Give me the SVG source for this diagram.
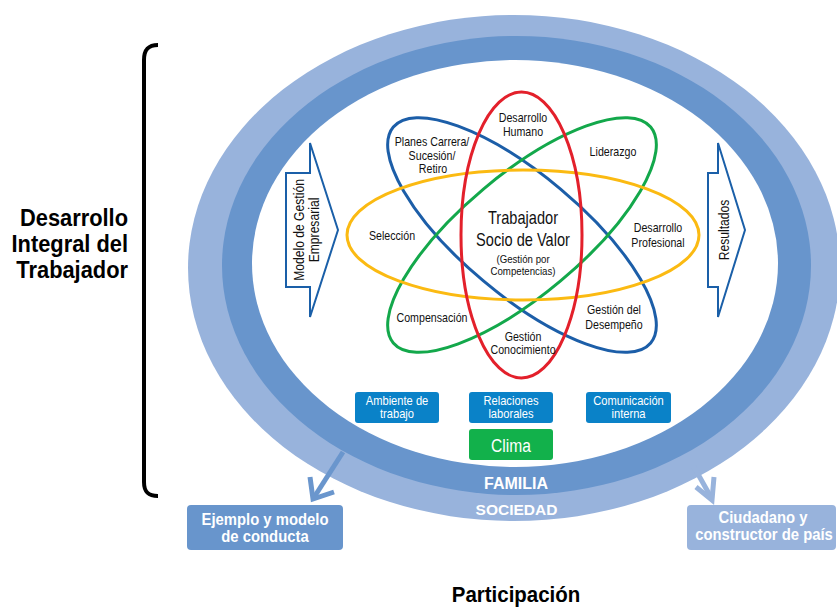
<svg xmlns="http://www.w3.org/2000/svg" width="837" height="608" viewBox="0 0 837 608">
<style>
.lbl{font-family:"Liberation Sans",Arial,sans-serif;font-size:13px;fill:#111;text-anchor:middle}
.ctr{font-family:"Liberation Sans",Arial,sans-serif;fill:#111;text-anchor:middle}
.box{font-family:"Liberation Sans",Arial,sans-serif;font-size:13.6px;fill:#fff;text-anchor:middle}
.bold{font-family:"Liberation Sans",Arial,sans-serif;font-weight:bold;text-anchor:middle}
.orb{fill:none;stroke-width:3}
.barrow{fill:#fff;stroke:#1a5fa8;stroke-width:2}
</style>
<defs/>
<g id="rings">
<ellipse cx="514" cy="268" rx="326" ry="253" fill="#98b3dc"/>
<ellipse cx="516.5" cy="265.5" rx="294.5" ry="229.5" fill="#6895cc"/>
<ellipse cx="515" cy="263.5" rx="263" ry="203.5" fill="#fff"/>
<text class="bold" x="516" y="489" font-size="16" fill="#fff">FAMILIA</text>
<text class="bold" x="516.5" y="515" font-size="15.5" fill="#fff">SOCIEDAD</text>
</g>
<g id="brace">
<path d="M158,45 C148,45 144,50 144,60 L144,482 C144,492 148,496 158,496" fill="none" stroke="#000" stroke-width="4"/>
<text class="bold" font-size="24" style="text-anchor:end" transform="translate(128 226) scale(.91 1)">Desarrollo</text>
<text class="bold" font-size="24" style="text-anchor:end" transform="translate(128 252) scale(.91 1)">Integral del</text>
<text class="bold" font-size="24" style="text-anchor:end" transform="translate(128 278) scale(.91 1)">Trabajador</text>
</g>
<g id="orbits">
<ellipse class="orb" cx="522" cy="235" rx="168" ry="60" transform="rotate(40 522 235)" stroke="#1c5ea8"/>
<ellipse class="orb" cx="522" cy="235" rx="168" ry="60" transform="rotate(-40 522 235)" stroke="#13a84b"/>
<ellipse class="orb" cx="523" cy="235" rx="176" ry="65" stroke="#fbba12"/>
<ellipse class="orb" cx="521.5" cy="235" rx="60.5" ry="143" stroke="#e3202b"/>
</g>
<g id="center">
<text class="ctr" font-size="17.8" transform="translate(523 224) scale(.82 1)">Trabajador</text>
<text class="ctr" font-size="17.8" transform="translate(523 245.7) scale(.82 1)">Socio de Valor</text>
<text class="ctr" font-size="11.8" transform="translate(523 262.7) scale(.82 1)">(Gestión por</text>
<text class="ctr" font-size="11.8" transform="translate(523 275) scale(.82 1)">Competencias)</text>
</g>
<g id="desarrollo-humano"><text class="lbl" transform="translate(523 121.7) scale(.82 1)">Desarrollo</text><text class="lbl" transform="translate(523 136) scale(.82 1)">Humano</text></g>
<g id="planes"><text class="lbl" transform="translate(432 146) scale(.82 1)">Planes Carrera/</text><text class="lbl" transform="translate(432 160) scale(.82 1)">Sucesión/</text><text class="lbl" transform="translate(433 173) scale(.82 1)">Retiro</text></g>
<g id="liderazgo"><text class="lbl" transform="translate(613 156) scale(.82 1)">Liderazgo</text></g>
<g id="seleccion"><text class="lbl" transform="translate(392 240) scale(.82 1)">Selección</text></g>
<g id="desarrollo-profesional"><text class="lbl" transform="translate(658 231.7) scale(.82 1)">Desarrollo</text><text class="lbl" transform="translate(658 246.7) scale(.82 1)">Profesional</text></g>
<g id="compensacion"><text class="lbl" transform="translate(432 321.7) scale(.82 1)">Compensación</text></g>
<g id="gestion-conocimiento"><text class="lbl" transform="translate(523 341) scale(.82 1)">Gestión</text><text class="lbl" transform="translate(523 354) scale(.82 1)">Conocimiento</text></g>
<g id="gestion-desempeno"><text class="lbl" transform="translate(614 314) scale(.82 1)">Gestión del</text><text class="lbl" transform="translate(614 329) scale(.82 1)">Desempeño</text></g>
<g id="modelo">
<path class="barrow" d="M286,173 L310,173 L310,143 L338,230 L310,317 L310,287 L286,287 Z"/>
<text class="ctr" font-size="14.8" transform="translate(304 230) rotate(-90) scale(.82 1)">Modelo de Gestión</text>
<text class="ctr" font-size="14.8" transform="translate(319 230) rotate(-90) scale(.82 1)">Empresarial</text>
</g>
<g id="resultados">
<path class="barrow" d="M708,173 L718,173 L718,143 L745,230 L718,317 L718,287 L708,287 Z"/>
<text class="ctr" font-size="14.8" transform="translate(729 230) rotate(-90) scale(.82 1)">Resultados</text>
</g>
<g id="ambiente"><rect x="355" y="392" width="84" height="31" rx="3" fill="#0a82c8"/><text class="box" transform="translate(397 404.5) scale(.82 1)">Ambiente de</text><text class="box" transform="translate(397 418) scale(.82 1)">trabajo</text></g>
<g id="relaciones"><rect x="469" y="392" width="84" height="31" rx="3" fill="#0a82c8"/><text class="box" transform="translate(511 404.5) scale(.82 1)">Relaciones</text><text class="box" transform="translate(511 418) scale(.82 1)">laborales</text></g>
<g id="comunicacion"><rect x="586" y="392" width="85" height="31" rx="3" fill="#0a82c8"/><text class="box" transform="translate(628.5 404.5) scale(.82 1)">Comunicación</text><text class="box" transform="translate(628.5 418) scale(.82 1)">interna</text></g>
<g id="clima"><rect x="469" y="429" width="84" height="31" rx="3" fill="#12b14b"/><text class="box" style="font-size:19px" transform="translate(511 452) scale(.82 1)">Clima</text></g>
<g id="connectors" fill="none" stroke-linecap="butt">
<g stroke="#6a96cd" stroke-width="5"><path d="M343,452 L313,499"/><path d="M310,477 L313,499 L334,492"/></g>
<g stroke="#98b3dc" stroke-width="5"><path d="M694,467 L712,499"/><path d="M696,487 L712,500 L714,477"/></g>
</g>
<g id="ejemplo"><rect x="187" y="505" width="156" height="45" rx="4" fill="#6895cc"/><text class="bold" font-size="16.5" fill="#fff" transform="translate(265 525) scale(.9 1)">Ejemplo y modelo</text><text class="bold" font-size="16.5" fill="#fff" transform="translate(265 542) scale(.9 1)">de conducta</text></g>
<g id="ciudadano"><rect x="687" y="505" width="149" height="45" rx="4" fill="#98b3dc"/><text class="bold" font-size="16.5" fill="#fff" transform="translate(763 523) scale(.9 1)">Ciudadano y</text><text class="bold" font-size="16.5" fill="#fff" transform="translate(764 540) scale(.9 1)">constructor de país</text></g>
<g id="participacion"><text class="bold" font-size="22.5" transform="translate(516 602) scale(.91 1)">Participación</text></g>
</svg>
